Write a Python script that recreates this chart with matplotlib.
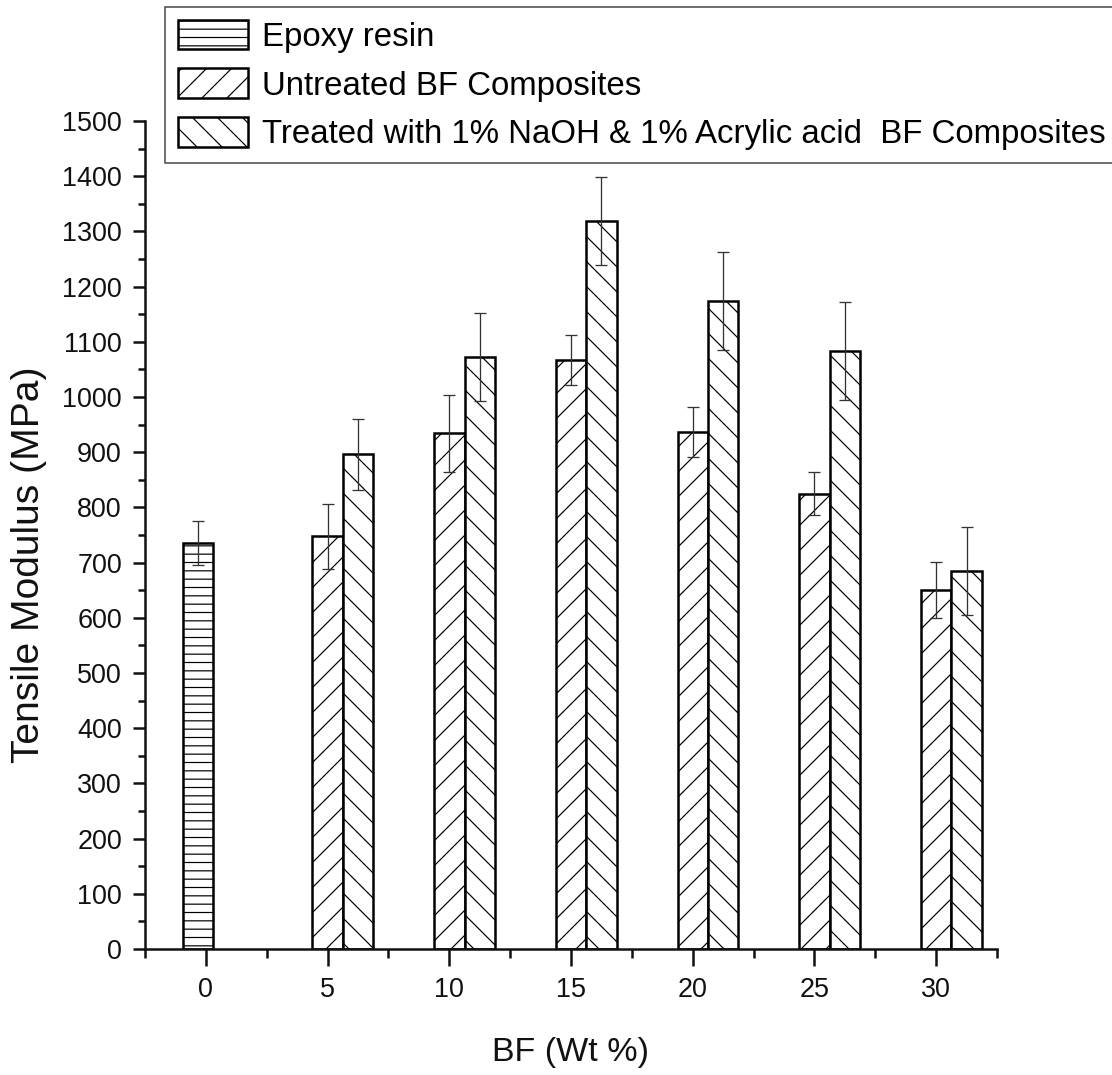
import numpy as np
import matplotlib
matplotlib.use("Agg")
import matplotlib.pyplot as plt
from matplotlib.ticker import MultipleLocator

# data
bf_wt = [5, 10, 15, 20, 25, 30]
epoxy_value = 736
epoxy_err = 40
untreated = [748, 934, 1067, 936, 825, 650]
untreated_err = [59, 69, 45, 45, 39, 51]
treated = [896, 1072, 1319, 1174, 1083, 685]
treated_err = [65, 80, 79, 89, 89, 80]
tick_pos = [0, 5, 10, 15, 20, 25, 30]
labels = ["Epoxy resin",
          "Untreated BF Composites",
          "Treated with 1% NaOH & 1% Acrylic acid  BF Composites"]

DPI = 150
W, H = 1112, 1075


def px(v):
    # pixel size -> points at this dpi
    return v * 72.0 / DPI


plt.rcParams['font.family'] = ['Liberation Sans', 'DejaVu Sans']
plt.rcParams['hatch.linewidth'] = px(1.2)

fig = plt.figure(figsize=(W / DPI, H / DPI), dpi=DPI)
ax = fig.add_axes([145 / W, 1 - 949 / H, 852 / W, 828 / H])

bw = 1.25
bar_kw = dict(facecolor='white', edgecolor='black', linewidth=px(2.5), zorder=2)
err_kw = dict(fmt='none', ecolor='#333333', elinewidth=px(1.3),
              capsize=px(6), capthick=px(1.3), zorder=3)

x_unt = np.array(bf_wt, dtype=float)
x_trt = x_unt + bw
x_epx = -0.32

b1 = ax.bar([x_epx], [epoxy_value], bw, hatch='---', label=labels[0], **bar_kw)
b2 = ax.bar(x_unt, untreated, bw, hatch='//', label=labels[1], **bar_kw)
b3 = ax.bar(x_trt, treated, bw, hatch='\\\\', label=labels[2], **bar_kw)

ax.errorbar([x_epx], [epoxy_value], yerr=[epoxy_err], **err_kw)
ax.errorbar(x_unt, untreated, yerr=untreated_err, **err_kw)
ax.errorbar(x_trt, treated, yerr=treated_err, **err_kw)

ax.set_xlim(-2.5, 32.5)
ax.set_ylim(0, 1500)
ax.set_xticks(tick_pos)
ax.xaxis.set_minor_locator(MultipleLocator(5, offset=2.5))
ax.yaxis.set_major_locator(MultipleLocator(100))
ax.yaxis.set_minor_locator(MultipleLocator(50))

for s in ['top', 'right']:
    ax.spines[s].set_visible(False)
for s in ['left', 'bottom']:
    ax.spines[s].set_linewidth(px(2.5))
    ax.spines[s].set_color('#111111')

ax.tick_params(axis='y', which='major', direction='out', length=px(12),
               width=px(2.5), pad=px(11), labelsize=px(27), colors='#111111')
ax.tick_params(axis='y', which='minor', direction='out', length=px(7), width=px(2.5),
               colors='#111111')
ax.tick_params(axis='x', which='major', direction='out', length=px(17),
               width=px(2.5), pad=px(11), labelsize=px(27), colors='#111111')
ax.tick_params(axis='x', which='minor', direction='out', length=px(9), width=px(2.5),
               colors='#111111')

fig.text(29 / W, 1 - 565 / H, 'Tensile Modulus (MPa)', rotation=90,
         ha='center', va='center', fontsize=px(39), color='#111111')
fig.text(571 / W, 1 - 1052 / H, 'BF (Wt %)', ha='center', va='center',
         fontsize=px(34), color='#111111')

leg = ax.legend(handles=[b1, b2, b3], loc='upper left',
                bbox_to_anchor=(165 / W, 1 - 7 / H), bbox_transform=fig.transFigure,
                borderaxespad=0, frameon=True, fancybox=False, edgecolor='#444444',
                framealpha=1, prop={'size': px(33)},
                handlelength=2.15, handleheight=1.0, handletextpad=0.4,
                labelspacing=0.48, borderpad=0.38)
leg.get_frame().set_linewidth(px(1.5))

fig.savefig('out.png', dpi=DPI)
